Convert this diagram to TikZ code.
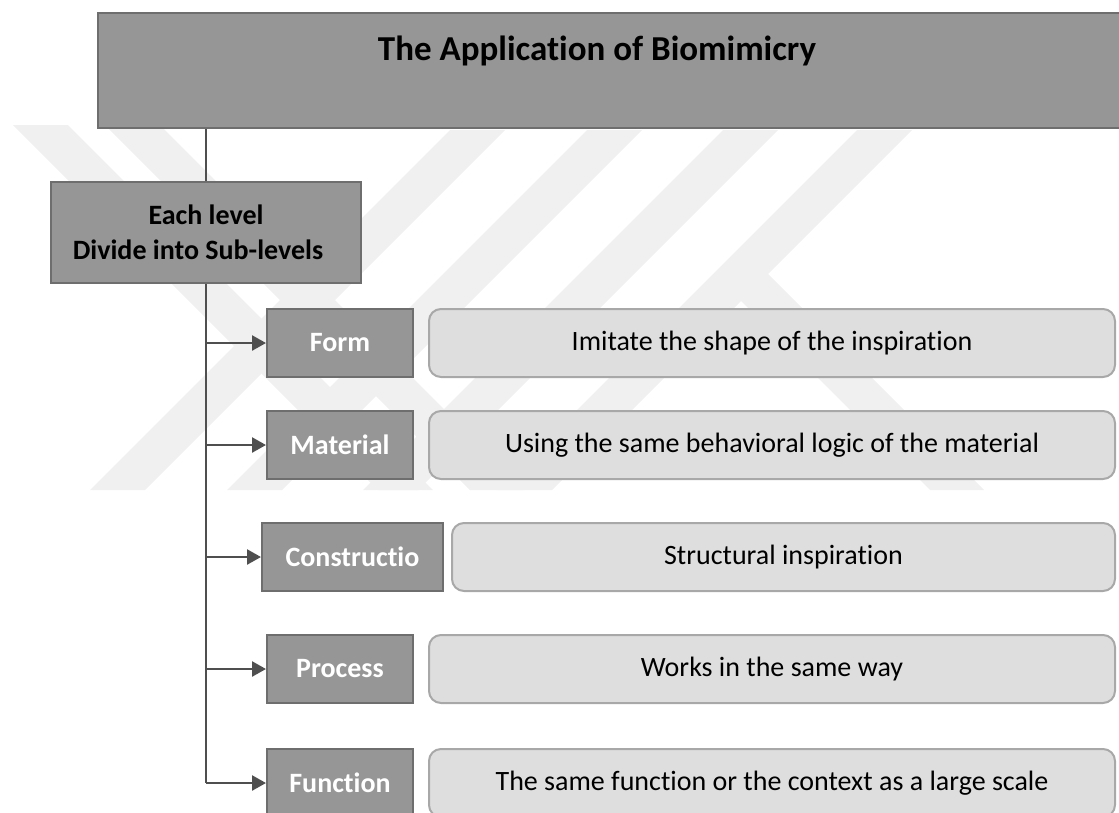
\documentclass[tikz,border=0pt]{standalone}
\usepackage{fontspec}
\setmainfont{Carlito}[Ligatures={NoCommon,NoContextual}]
\usetikzlibrary{arrows.meta}
\definecolor{darkfill}{HTML}{969696}
\definecolor{darkline}{HTML}{6E6E6E}
\definecolor{lightfill}{HTML}{DEDEDE}
\definecolor{lightline}{HTML}{A8A8A8}
\definecolor{conn}{HTML}{4F4F4F}
\definecolor{wm}{HTML}{F0F0F0}
\tikzset{
  darkbox/.style={draw=darkline, fill=darkfill, line width=2pt, inner sep=0pt,
    font=\fontsize{28}{35}\selectfont\bfseries, text=white},
  descbox/.style={draw=lightline, fill=lightfill, line width=2pt, rounded corners=12pt,
    inner sep=0pt, font=\fontsize{28}{35}\selectfont, text=black},
  trunk/.style={conn, line width=2.5pt},
  link/.style={trunk, -{Triangle[length=14pt,width=15pt]}},
  wmark/.style={fill=wm, draw=none},
}
\begin{document}
\begin{tikzpicture}[x=1pt,y=-1pt]
\useasboundingbox (0,0) rectangle (1119,812);
\clip (0,0) rectangle (1119,812);
% watermark
\fill[wmark] (13,125) -- (68,125) -- (433,490) -- (378,490) -- cycle;
\fill[wmark] (105,125) -- (160,125) -- (525,490) -- (470,490) -- cycle;
\fill[wmark] (90,490) -- (145,490) -- (505,130) -- (450,130) -- cycle;
\fill[wmark] (227,490) -- (282,490) -- (642,130) -- (587,130) -- cycle;
\fill[wmark] (363,490) -- (418,490) -- (778,130) -- (723,130) -- cycle;
\fill[wmark] (497,490) -- (552,490) -- (912,130) -- (857,130) -- cycle;
\fill[wmark] (740,300) -- (767,273) -- (984,490) -- (930,490) -- cycle;
% title and first level
\node[darkbox, text=black, minimum width=1027, minimum height=115,
  font=\fontsize{35}{42}\selectfont\bfseries, text height=25pt, text depth=46pt]
  (title) at (611.5,70.5) {The Application of Biomimicry\hspace*{29pt}};
\node[darkbox, text=black, minimum width=310, minimum height=101, align=center]
  (each) at (206,232.5) {Each level\\Divide into Sub-levels\hspace*{16pt}};
% sub-level boxes
\node[darkbox, minimum width=146, minimum height=68] (form) at (340,343) {Form};
\node[darkbox, minimum width=146, minimum height=68] (mat) at (340,445) {Material};
\node[darkbox, minimum width=181, minimum height=68] (cons) at (352.5,557) {Constructio};
\node[darkbox, minimum width=146, minimum height=68] (proc) at (340,669) {Process};
\node[darkbox, minimum width=146, minimum height=68] (func) at (340,783) {Function};
% descriptions
\node[descbox, minimum width=686, minimum height=68] (dform) at (772,343) {Imitate the shape of the inspiration};
\node[descbox, minimum width=686, minimum height=68] (dmat) at (772,445) {Using the same behavioral logic of the material};
\node[descbox, minimum width=663, minimum height=68] (dcons) at (783.5,557) {Structural inspiration};
\node[descbox, minimum width=686, minimum height=68] (dproc) at (772,669) {Works in the same way};
\node[descbox, minimum width=686, minimum height=68] (dfunc) at (772,783) {The same function or the context as a large scale};
% connectors
\draw[trunk] (each.north) -- (each.north |- title.south);
\draw[trunk] (each.south) -- (each.south |- func.west);
\draw[link] (each.south |- form.west) -- (form.west);
\draw[link] (each.south |- mat.west) -- (mat.west);
\draw[link] (each.south |- cons.west) -- (cons.west);
\draw[link] (each.south |- proc.west) -- (proc.west);
\draw[link] (each.south |- func.west) -- (func.west);
\end{tikzpicture}
\end{document}
